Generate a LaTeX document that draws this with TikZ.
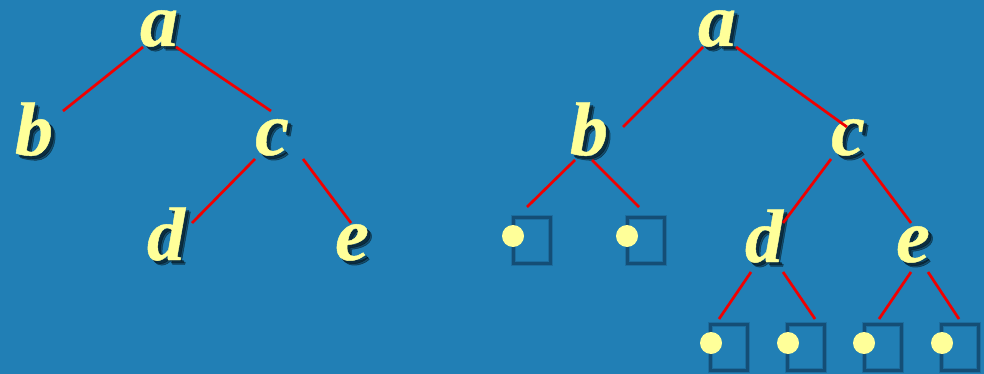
\documentclass[tikz,border=0pt]{standalone}
\usepackage{fontspec}
\setmainfont{Liberation Serif}
\newfontfamily\ltrfont[FakeBold=0.6]{Liberation Serif Bold Italic}
\usetikzlibrary{calc}
\definecolor{bg}{RGB}{33,127,181}
\definecolor{ltr}{RGB}{255,255,153}
\definecolor{edgered}{RGB}{240,0,0}
\definecolor{boxblue}{RGB}{20,78,118}
\tikzset{
  letter/.style={anchor=base,inner sep=0pt,text=ltr,font=\fontsize{76}{76}\ltrfont},
  shadowltr/.style={anchor=base,inner sep=0pt,text=black,opacity=0.4,font=\fontsize{76}{76}\ltrfont},
  edge/.style={draw=edgered,line width=2.7pt},
  leafbox/.style={draw=boxblue,line width=3pt,rectangle,minimum width=37pt,minimum height=46pt,inner sep=0pt},
  leafhalo/.style={draw=boxblue,draw opacity=0.35,line width=5pt,rectangle,minimum width=37pt,minimum height=46pt,inner sep=0pt},
  leafdot/.style={circle,fill=ltr,minimum size=22pt,inner sep=0pt}
}
\newcommand{\ltrnode}[3]{%
  \node[shadowltr] at ($(#2)+(4.5,4.5)$) {#3};
  \node[shadowltr] at ($(#2)+(3,3)$) {#3};
  \node[letter] (#1) at (#2) {#3};}
\newcommand{\leafnode}[2]{%
  \node[leafhalo] at (#2) {};
  \node[leafbox] (#1) at (#2) {};}
\begin{document}
\begin{tikzpicture}[x=1pt,y=-1pt]
\fill[bg] (0,0) rectangle (984,374);
\useasboundingbox (0,0) rectangle (984,374);
% left tree
\ltrnode{la}{159,46}{a}
\ltrnode{lb}{34,155}{b}
\ltrnode{lc}{272,155}{c}
\ltrnode{ld}{166,260}{d}
\ltrnode{le}{352,260}{e}
\coordinate (la1) at (143,47); \coordinate (lb1) at (63,111);
\coordinate (la2) at (176,47); \coordinate (lc1) at (271,111);
\coordinate (lc2) at (255,159); \coordinate (ld1) at (192,223);
\coordinate (lc3) at (303,159); \coordinate (le1) at (351,223);
\draw[edge] (la1) -- (lb1);
\draw[edge] (la2) -- (lc1);
\draw[edge] (lc2) -- (ld1);
\draw[edge] (lc3) -- (le1);
% right tree
\ltrnode{ra}{717,46}{a}
\ltrnode{rb}{589,155}{b}
\ltrnode{rc}{848,155}{c}
\ltrnode{rd}{764,262}{d}
\ltrnode{re}{913,262}{e}
\coordinate (ra1) at (703,47); \coordinate (rb1) at (623,127);
\coordinate (ra2) at (736,47); \coordinate (rc1) at (847,127);
\coordinate (rb2) at (575,160); \coordinate (rb3) at (592,160);
\coordinate (rc2) at (831,159); \coordinate (rd1) at (783,223);
\coordinate (rc3) at (863,159); \coordinate (re1) at (911,223);
\coordinate (rd2) at (751,272); \coordinate (rd3) at (783,272);
\coordinate (re2) at (911,272); \coordinate (re3) at (928,272);
% leaves
\leafnode{s1}{531.5,240}
\leafnode{s2}{645.5,240}
\leafnode{s3}{728.5,347.5}
\leafnode{s4}{805.5,347.5}
\leafnode{s5}{882.5,347.5}
\leafnode{s6}{959.5,347.5}
\node[leafdot] (c1) at (513,236) {};
\node[leafdot] (c2) at (627,236) {};
\node[leafdot] (c3) at (711,343) {};
\node[leafdot] (c4) at (788,343) {};
\node[leafdot] (c5) at (864,343) {};
\node[leafdot] (c6) at (942,343) {};
\coordinate (t1) at (527,207); \coordinate (t2) at (639,207);
\coordinate (t3) at (719,319); \coordinate (t4) at (815,319);
\coordinate (t5) at (879,319); \coordinate (t6) at (959,319);
\draw[edge] (ra1) -- (rb1);
\draw[edge] (ra2) -- (rc1);
\draw[edge] (rb2) -- (t1);
\draw[edge] (rb3) -- (t2);
\draw[edge] (rc2) -- (rd1);
\draw[edge] (rc3) -- (re1);
\draw[edge] (rd2) -- (t3);
\draw[edge] (rd3) -- (t4);
\draw[edge] (re2) -- (t5);
\draw[edge] (re3) -- (t6);
\end{tikzpicture}
\end{document}
